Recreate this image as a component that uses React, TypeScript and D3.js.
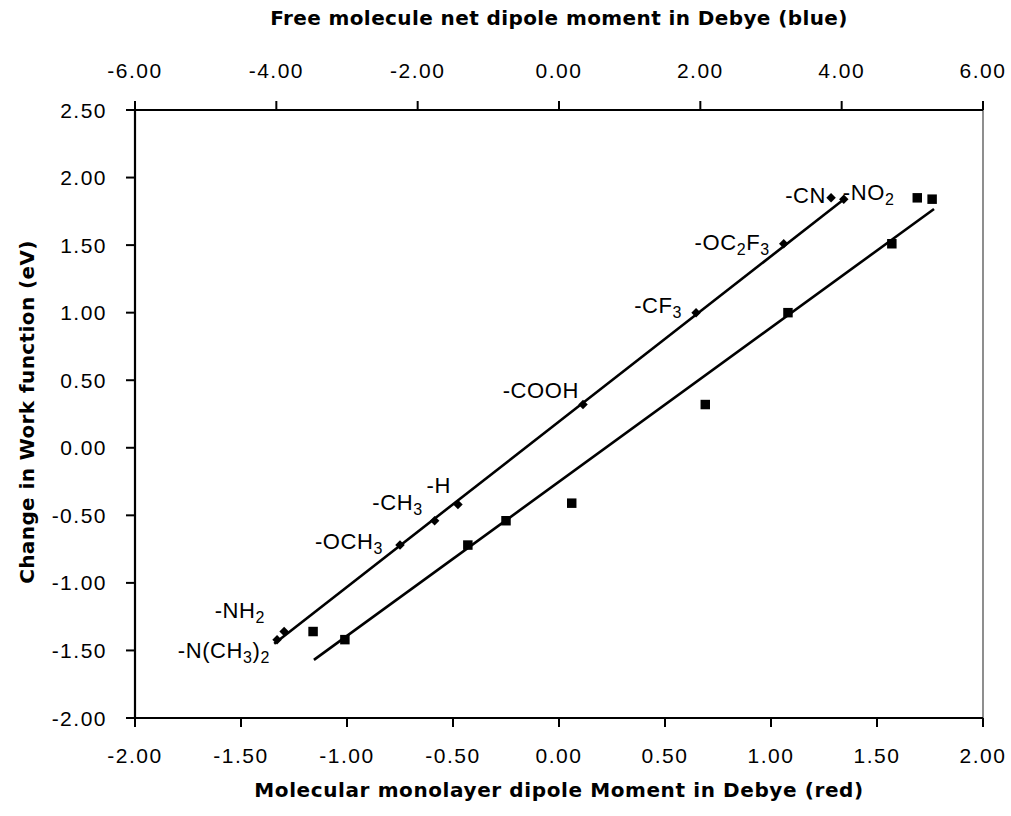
import React from "react";
import * as d3 from "d3";

// ---------- data ----------
const substituents = ["-N(CH_3)_2", "-NH_2", "-OCH_3", "-CH_3", "-H", "-COOH", "-CF_3", "-OC_2F_3", "-CN", "-NO_2"];
const workFunctionChange = [-1.42, -1.36, -0.72, -0.54, -0.42, 0.32, 1.0, 1.51, 1.85, 1.84];
const freeDipole = [-3.99, -3.89, -2.25, -1.76, -1.43, 0.34, 1.94, 3.18, 3.85, 4.03];
const monolayerWF = [-1.42, -1.36, -0.72, -0.54, -0.41, 0.32, 1.0, 1.51, 1.85, 1.84];
const monolayerDipole = [-1.01, -1.16, -0.43, -0.25, 0.06, 0.69, 1.08, 1.57, 1.69, 1.76];
const freeFitX = [-4.03, 4.06];
const freeFitY = [-1.45, 1.85];
const monoFitX = [-1.156, 1.769];
const monoFitY = [-1.57, 1.767];
const bottomTicks = [-2, -1.5, -1, -0.5, 0, 0.5, 1, 1.5, 2];
const topTicks = [-6, -4, -2, 0, 2, 4, 6];
const leftTicks = [-2, -1.5, -1, -0.5, 0, 0.5, 1, 1.5, 2, 2.5];

// label layout (pixel offsets from the point, text anchor)
const labelLayout: [number, number, string][] = [
  [-7, 18, "end"],
  [-19, -14, "end"],
  [-17, 4, "end"],
  [-12, -11, "end"],
  [-7, -12, "end"],
  [-4, -7, "end"],
  [-14, 0, "end"],
  [-14, 6, "end"],
  [-5, 5, "end"],
  [-1, 1, "start"],
];

const L = 135, R = 983, T = 110, B = 718;
const FONT = "'Liberation Sans', Arial, Helvetica, sans-serif";
const TITLE_FONT = "'DejaVu Sans', Verdana, sans-serif";

function Label({ text, x, y, anchor }: { text: string; x: number; y: number; anchor: string }) {
  const parts: { t: string; sub: boolean }[] = [];
  let buf = "";
  for (let i = 0; i < text.length; i++) {
    if (text[i] === "_") {
      if (buf) parts.push({ t: buf, sub: false });
      buf = "";
      parts.push({ t: text[i + 1], sub: true });
      i++;
    } else buf += text[i];
  }
  if (buf) parts.push({ t: buf, sub: false });
  let prevSub = false;
  return (
    <text x={x} y={y} textAnchor={anchor} fontFamily={FONT} fontSize={22} letterSpacing={0.6} fill="#000">
      {parts.map((p, i) => {
        const dy = p.sub && !prevSub ? 5 : !p.sub && prevSub ? -5 : 0;
        prevSub = p.sub;
        return (
          <tspan key={i} dy={dy} fontSize={p.sub ? 16 : 22}>
            {p.t}
          </tspan>
        );
      })}
    </text>
  );
}

export default function App() {
  const xBottom = d3.scaleLinear().domain([-2, 2]).range([L, R]);
  const xTop = d3.scaleLinear().domain([-6, 6]).range([L, R]);
  const y = d3.scaleLinear().domain([-2, 2.5]).range([B, T]);
  const line = d3.line<[number, number]>();
  const diamond = d3.symbol().type(d3.symbolSquare).size(45)();
  const square = d3.symbol().type(d3.symbolSquare).size(90)();
  const fmt = (v: number) => d3.format(".2f")(v).replace("\u2212", "-");

  const freeLine = line(freeFitX.map((v, i) => [xTop(v), y(freeFitY[i])] as [number, number]));
  const monoLine = line(monoFitX.map((v, i) => [xBottom(v), y(monoFitY[i])] as [number, number]));

  return (
    <svg width={1011} height={816} style={{ position: "absolute", left: 0, top: 0, background: "#fff" }}>
      <rect width={1011} height={816} fill="#fff" />
      {/* frame */}
      <line x1={R} x2={R} y1={T} y2={B} stroke="#444" strokeWidth={1.2} />
      <line x1={L} x2={R} y1={T} y2={T} stroke="#000" strokeWidth={2.2} />
      <line x1={L} x2={R} y1={B} y2={B} stroke="#000" strokeWidth={2.2} />
      <line x1={L} x2={L} y1={T} y2={B} stroke="#000" strokeWidth={2.2} />
      {/* bottom axis */}
      {bottomTicks.map((t) => (
        <g key={"b" + t}>
          <line x1={xBottom(t)} x2={xBottom(t)} y1={B} y2={B + 9} stroke="#000" strokeWidth={2} />
          <text x={xBottom(t)} y={763} textAnchor="middle" fontFamily={FONT} fontSize={21} letterSpacing={1.5}>
            {fmt(t)}
          </text>
        </g>
      ))}
      {/* top axis */}
      {topTicks.map((t) => (
        <g key={"t" + t}>
          <line x1={xTop(t)} x2={xTop(t)} y1={T} y2={T - 9} stroke="#000" strokeWidth={2} />
          <text x={xTop(t)} y={78} textAnchor="middle" fontFamily={FONT} fontSize={21} letterSpacing={1.5}>
            {fmt(t)}
          </text>
        </g>
      ))}
      {/* left axis */}
      {leftTicks.map((t) => (
        <g key={"l" + t}>
          <line x1={L} x2={L - 9} y1={y(t)} y2={y(t)} stroke="#000" strokeWidth={2} />
          <text x={107} y={y(t) + 7.5} textAnchor="end" fontFamily={FONT} fontSize={21} letterSpacing={1.5}>
            {fmt(t)}
          </text>
        </g>
      ))}
      {/* titles */}
      <text x={559} y={25} textAnchor="middle" fontFamily={TITLE_FONT} fontWeight="bold" fontSize={20} letterSpacing={0.4}>
        Free molecule net dipole moment in Debye (blue)
      </text>
      <text x={559} y={797} textAnchor="middle" fontFamily={TITLE_FONT} fontWeight="bold" fontSize={20} letterSpacing={0.6}>
        Molecular monolayer dipole Moment in Debye (red)
      </text>
      <text
        transform={`translate(34, ${412}) rotate(-90)`}
        textAnchor="middle"
        fontFamily={TITLE_FONT}
        fontWeight="bold"
        fontSize={20}
        letterSpacing={0.4}
      >
        Change in Work function (eV)
      </text>
      {/* fit lines */}
      <path d={freeLine || ""} stroke="#000" strokeWidth={2.6} fill="none" />
      <path d={monoLine || ""} stroke="#000" strokeWidth={2.6} fill="none" />
      {/* free molecule points (diamonds) */}
      {freeDipole.map((v, i) => (
        <path
          key={"d" + i}
          d={diamond || ""}
          transform={`translate(${xTop(v)},${y(workFunctionChange[i])}) rotate(45)`}
          fill="#000"
        />
      ))}
      {/* monolayer points (squares) */}
      {monolayerDipole.map((v, i) => (
        <path key={"s" + i} d={square || ""} transform={`translate(${xBottom(v)},${y(monolayerWF[i])})`} fill="#000" />
      ))}
      {/* labels */}
      {substituents.map((s, i) => (
        <Label
          key={"lab" + i}
          text={s}
          x={xTop(freeDipole[i]) + labelLayout[i][0]}
          y={y(workFunctionChange[i]) + labelLayout[i][1]}
          anchor={labelLayout[i][2]}
        />
      ))}
    </svg>
  );
}
